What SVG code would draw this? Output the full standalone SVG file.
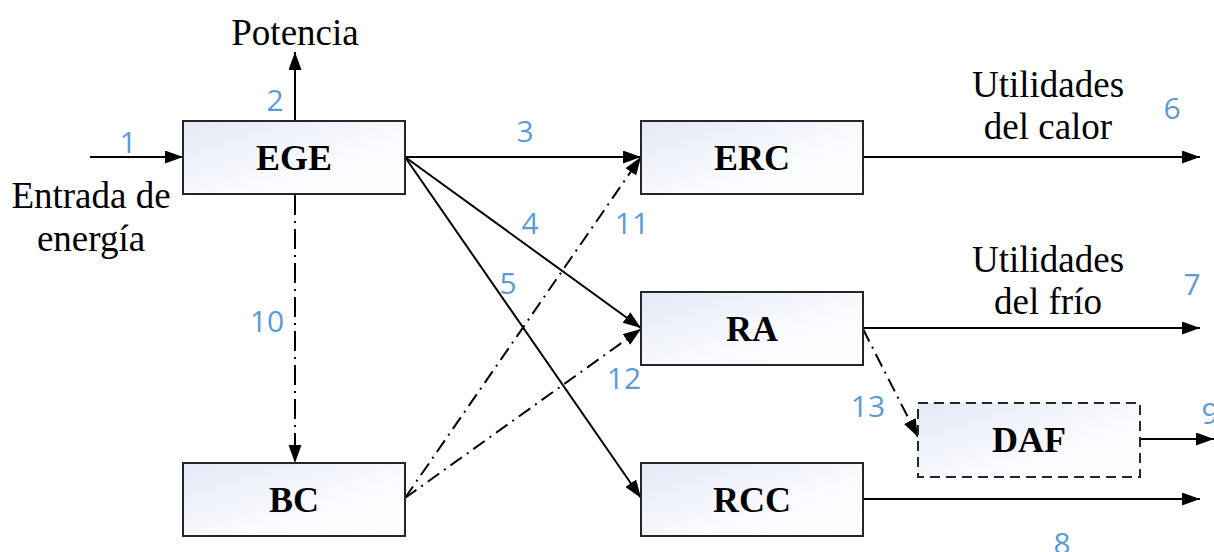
<svg xmlns="http://www.w3.org/2000/svg" width="1214" height="552" viewBox="0 0 1214 552">
<defs>
<linearGradient id="g" x1="0" y1="0" x2="1" y2="1">
<stop offset="0" stop-color="#E3E9F6"/>
<stop offset="0.6" stop-color="#FAFBFE"/>
<stop offset="1" stop-color="#FFFFFF"/>
</linearGradient>
<marker id="a" markerUnits="userSpaceOnUse" markerWidth="20" markerHeight="14" refX="18" refY="6.5" orient="auto">
<path d="M0,0 L18,6.5 L0,13 z" fill="#000" stroke="none"/>
</marker>
</defs>
<style>
.box{fill:url(#g);stroke:#262626;stroke-width:2}
.dbox{fill:url(#g);stroke:#262626;stroke-width:2;stroke-dasharray:10 6}
.lbl{font-family:"Liberation Serif",serif;font-weight:bold;font-size:36px;fill:#000;text-anchor:middle}
.txt{font-family:"Liberation Serif",serif;font-size:37px;fill:#000;text-anchor:middle}
.num{font-family:"Open Sans","Liberation Sans",sans-serif;font-size:30px;fill:#5B9BD5;text-anchor:middle}
.c{fill:none;stroke:#000;stroke-width:2;marker-end:url(#a)}
.dd{stroke-dasharray:14 6 2 6}
</style>
<g id="connectors">
<line class="c" x1="90" y1="157" x2="183" y2="157"/>
<line class="c" x1="295" y1="121" x2="295" y2="52"/>
<line class="c" x1="405" y1="157" x2="641" y2="157"/>
<line class="c" x1="405" y1="157" x2="641" y2="328"/>
<line class="c" x1="405" y1="157" x2="641" y2="498"/>
<line class="c" x1="863" y1="157" x2="1200" y2="157"/>
<line class="c" x1="863" y1="328" x2="1200" y2="328"/>
<line class="c" x1="863" y1="499" x2="1200" y2="499"/>
<line class="c" x1="1140" y1="439" x2="1214" y2="439"/>
<line class="c" x1="295" y1="195" x2="295" y2="463" style="stroke-dasharray:20 6 2 6"/>
<line class="c dd" x1="405" y1="498" x2="641" y2="157"/>
<line class="c dd" x1="405" y1="498" x2="641" y2="329"/>
<line class="c dd" x1="863" y1="329" x2="918" y2="437"/>
</g>
<g id="EGE"><rect class="box" x="183" y="121" width="222" height="73"/><text class="lbl" x="294" y="170">EGE</text></g>
<g id="ERC"><rect class="box" x="641" y="121" width="222" height="73"/><text class="lbl" x="752" y="170">ERC</text></g>
<g id="RA"><rect class="box" x="641" y="292" width="222" height="73"/><text class="lbl" x="752" y="341">RA</text></g>
<g id="RCC"><rect class="box" x="641" y="463" width="222" height="73"/><text class="lbl" x="752" y="512">RCC</text></g>
<g id="BC"><rect class="box" x="183" y="463" width="222" height="73"/><text class="lbl" x="294" y="512">BC</text></g>
<g id="DAF"><rect class="dbox" x="918" y="403" width="222" height="74"/><text class="lbl" x="1029" y="452">DAF</text></g>
<g id="texts">
<text class="txt" x="295" y="45">Potencia</text>
<text class="txt" x="91" y="208">Entrada de</text>
<text class="txt" x="91" y="251">energía</text>
<text class="txt" x="1048" y="97">Utilidades</text>
<text class="txt" x="1048" y="139">del calor</text>
<text class="txt" x="1048" y="272">Utilidades</text>
<text class="txt" x="1048" y="314">del frío</text>
</g>
<g id="numbers">
<text class="num" x="128" y="153">1</text>
<text class="num" x="275" y="111">2</text>
<text class="num" x="525" y="142">3</text>
<text class="num" x="530" y="234">4</text>
<text class="num" x="508" y="294">5</text>
<text class="num" x="1172" y="119">6</text>
<text class="num" x="1192" y="295">7</text>
<text class="num" x="1062" y="554">8</text>
<text class="num" x="1210" y="424">9</text>
<text class="num" x="267" y="332">10</text>
<text class="num" x="632" y="234">11</text>
<text class="num" x="624" y="389">12</text>
<text class="num" x="868" y="417">13</text>
</g>
</svg>
